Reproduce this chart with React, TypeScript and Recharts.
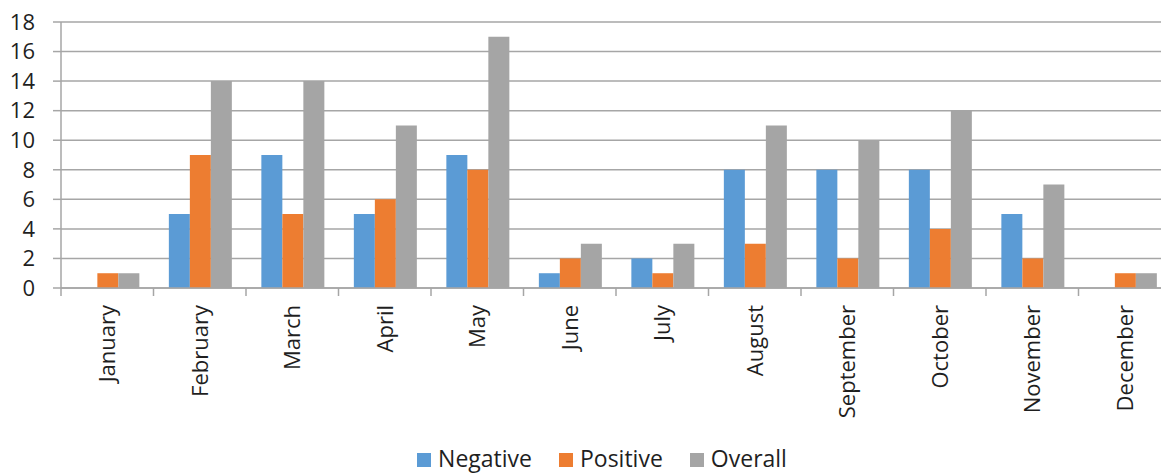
import React from "react";
import { BarChart, Bar, XAxis, YAxis, CartesianGrid, Legend } from "recharts";

const months = ["January", "February", "March", "April", "May", "June", "July", "August", "September", "October", "November", "December"];
const negative = [0, 5, 9, 5, 9, 1, 2, 8, 8, 8, 5, 0];
const positive = [1, 9, 5, 6, 8, 2, 1, 3, 2, 4, 2, 1];
const overall = [1, 14, 14, 11, 17, 3, 3, 11, 10, 12, 7, 1];
const yTicks = [0, 2, 4, 6, 8, 10, 12, 14, 16, 18];

const seriesInfo = [
  { key: "Negative", color: "#5B9BD5" },
  { key: "Positive", color: "#ED7D31" },
  { key: "Overall", color: "#A5A5A5" },
];

const data = months.map((m, i) => ({
  month: m,
  Negative: negative[i],
  Positive: positive[i],
  Overall: overall[i],
}));

const FONT = "'Open Sans', 'Noto Sans', sans-serif";
const CHART_W = 1175;
const CHART_H = 475;
const MARGIN = { top: 22, right: 4, left: 0, bottom: 0 };
const Y_W = 61;
const BAND = (CHART_W - MARGIN.left - MARGIN.right - Y_W) / months.length;
const GRID = "#a6a6a6";
const TEXT = "#1f1f1f";

const MonthTick = (props: any) => {
  const { x, y, payload, index } = props;
  const ty = y + 17;
  const left = x - BAND / 2;
  const right = x + BAND / 2;
  return (
    <g>
      <line x1={left} y1={y} x2={left} y2={y + 8} stroke={GRID} strokeWidth={1.5} />
      {index === months.length - 1 && (
        <line x1={right} y1={y} x2={right} y2={y + 8} stroke={GRID} strokeWidth={1.5} />
      )}
      <text
        x={x}
        y={ty}
        transform={`rotate(-90 ${x} ${ty})`}
        textAnchor="end"
        dy="0.36em"
        fontSize={22}
        fontFamily={FONT}
        fill={TEXT}
      >
        {payload.value}
      </text>
    </g>
  );
};

const LegendContent = () => (
  <div
    style={{
      display: "flex",
      justifyContent: "center",
      alignItems: "flex-start",
      boxSizing: "border-box",
      paddingTop: 2,
      paddingLeft: 33,
      height: 30,
      fontFamily: FONT,
      fontSize: 23,
      color: TEXT,
    }}
  >
    {seriesInfo.map((s, i) => (
      <div key={s.key} style={{ display: "flex", alignItems: "center", marginLeft: i === 0 ? 0 : 27, height: 23 }}>
        <span style={{ display: "inline-block", width: 14, height: 14, background: s.color, marginRight: 7, marginTop: 3 }} />
        <span style={{ lineHeight: "23px" }}>{s.key}</span>
      </div>
    ))}
  </div>
);

export default function App() {
  return (
    <div
      style={{
        position: "absolute",
        left: 0,
        top: 0,
        width: 1161,
        height: 475,
        overflow: "hidden",
        background: "#fff",
      }}
    >
      <BarChart
        width={CHART_W}
        height={CHART_H}
        data={data}
        margin={MARGIN}
        barCategoryGap="16.6%"
        barGap={0}
      >
        <CartesianGrid vertical={false} stroke={GRID} strokeWidth={1.5} />
        <XAxis
          dataKey="month"
          interval={0}
          height={157}
          tickSize={0}
          tickMargin={0}
          tickLine={false}
          axisLine={{ stroke: GRID, strokeWidth: 1.5 }}
          tick={<MonthTick />}
        />
        <YAxis
          width={Y_W}
          domain={[0, 18]}
          ticks={yTicks}
          interval={0}
          tickSize={8}
          tickMargin={18}
          tickLine={{ stroke: GRID, strokeWidth: 1.5 }}
          axisLine={{ stroke: GRID, strokeWidth: 1.5 }}
          tick={{ fontSize: 22, fontFamily: FONT, fill: TEXT }}
        />
        <Legend verticalAlign="bottom" height={30} content={<LegendContent />} />
        {seriesInfo.map((s) => (
          <Bar key={s.key} dataKey={s.key} fill={s.color} isAnimationActive={false} />
        ))}
      </BarChart>
    </div>
  );
}
